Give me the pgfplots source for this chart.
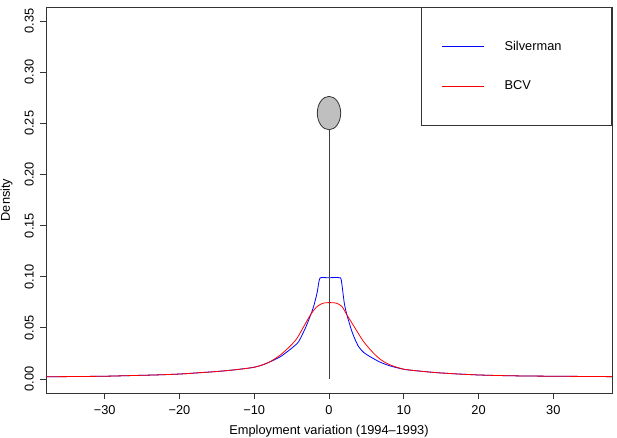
\documentclass[border=0pt]{standalone}
\usepackage{fontspec}
\setmainfont{Liberation Sans}
\usepackage{pgfplots}
\pgfplotsset{compat=1.18}

% kernel density estimates
\pgfplotstableread{
x y
-37.85 0.0022
-34.0 0.0024
-30.0 0.0027
-26.7 0.0033
-23.0 0.0040
-19.85 0.0049
-17.6 0.0060
-15.4 0.0071
-13.2 0.0085
-11.0 0.0104
-10.0 0.0115
-9.0 0.0135
-7.85 0.0169
-6.5 0.0218
-5.17 0.0290
-4.6 0.0325
-4.06 0.0365
-3.17 0.0496
-2.4 0.0636
-2.06 0.0708
-1.6 0.0840
-1.35 0.0950
-1.16 0.0990
-0.5 0.0991
0.0 0.0990
0.8 0.0992
1.42 0.0990
1.64 0.0969
2.05 0.0740
2.4 0.0626
3.07 0.0463
3.5 0.0385
3.96 0.0316
4.6 0.0262
5.5 0.0218
6.8 0.0166
8.2 0.0127
10.0 0.0095
12.0 0.0078
14.4 0.0062
17.0 0.0050
19.8 0.0040
22.0 0.0035
25.6 0.0030
30.0 0.0027
34.0 0.0025
37.85 0.0023
}\silverman

\pgfplotstableread{
x y
-37.85 0.0022
-34.0 0.0024
-30.0 0.0027
-26.7 0.0033
-23.0 0.0040
-19.85 0.0049
-17.6 0.0060
-15.4 0.0071
-13.2 0.0085
-11.0 0.0104
-10.0 0.0115
-9.0 0.0135
-7.85 0.0170
-6.5 0.0235
-5.17 0.0323
-4.28 0.0398
-3.4 0.0510
-2.4 0.0636
-1.6 0.0708
-0.8 0.0741
0.0 0.0747
1.0 0.0741
1.74 0.0708
2.4 0.0626
3.5 0.0496
4.63 0.0365
5.97 0.0251
7.0 0.0185
8.2 0.0137
10.0 0.0096
12.0 0.0078
14.4 0.0062
17.0 0.0050
19.8 0.0040
22.0 0.0035
25.6 0.0030
30.0 0.0027
34.0 0.0025
37.85 0.0023
}\bcv

\begin{document}
\fontsize{12.8}{15}\selectfont
\begin{tikzpicture}
\begin{axis}[
    at={(0,0)}, anchor=south west,
    width=566pt, height=386pt, scale only axis,
    xmin=-37.85, xmax=37.85, ymin=-0.0137, ymax=0.3637,
    axis line style={black!80, line width=0.8pt},
    every tick/.style={black!80, line width=0.8pt},
    tick align=outside, major tick length=6pt,
    xtick pos=bottom, ytick pos=left,
    xtick={-30,-20,-10,0,10,20,30},
    xticklabels={−30,−20,−10,0,10,20,30},
    ytick={0,0.05,0.10,0.15,0.20,0.25,0.30,0.35},
    yticklabels={0.00,0.05,0.10,0.15,0.20,0.25,0.30,0.35},
    xticklabel style={anchor=north, inner sep=0pt},
    yticklabel style={rotate=90, anchor=south, inner sep=0pt},
    xticklabel shift=6pt, yticklabel shift=6pt,
    xlabel={Employment variation (1994–1993)},
    ylabel={Density},
    xlabel style={at={(axis description cs:0.5,-0.083)}, anchor=north, inner sep=0pt},
    ylabel style={at={(axis description cs:-0.0804,0.5)}, anchor=north, inner sep=0pt},
    legend style={at={(1,1)}, anchor=north east, draw=black!80, line width=0.8pt,
        fill=white, inner xsep=0pt, inner ysep=19pt, row sep=0pt, column sep=0pt,
        nodes={inner sep=0pt, text width=107pt, minimum height=40pt, align=left}},
]
\addplot[blue, line width=0.8pt, smooth, tension=0.4,
    legend image code/.code={
        \draw[blue, line width=0.8pt] (20pt,0pt) -- (62pt,0pt);
        \path[draw=none, fill=none] (0pt,-20pt) rectangle (83pt,20pt);}]
    table {\silverman};
\addplot[red, line width=0.8pt, smooth, tension=0.4,
    legend image code/.code={
        \draw[red, line width=0.8pt] (20pt,0pt) -- (62pt,0pt);
        \path[draw=none, fill=none] (0pt,-20pt) rectangle (83pt,20pt);}]
    table {\bcv};
\addplot[black!75, line width=0.8pt, forget plot] coordinates {(0,0) (0,0.2436)};
\addplot[only marks, mark=*, mark size=16.7pt, forget plot,
    mark options={xscale=0.7, fill=black!25, draw=black!80, line width=0.8pt}]
    coordinates {(0,0.26)};
\legend{Silverman, BCV}
\end{axis}
\pgfresetboundingbox
\useasboundingbox (-46pt,-44pt) rectangle (571pt,393pt);
\end{tikzpicture}
\end{document}
